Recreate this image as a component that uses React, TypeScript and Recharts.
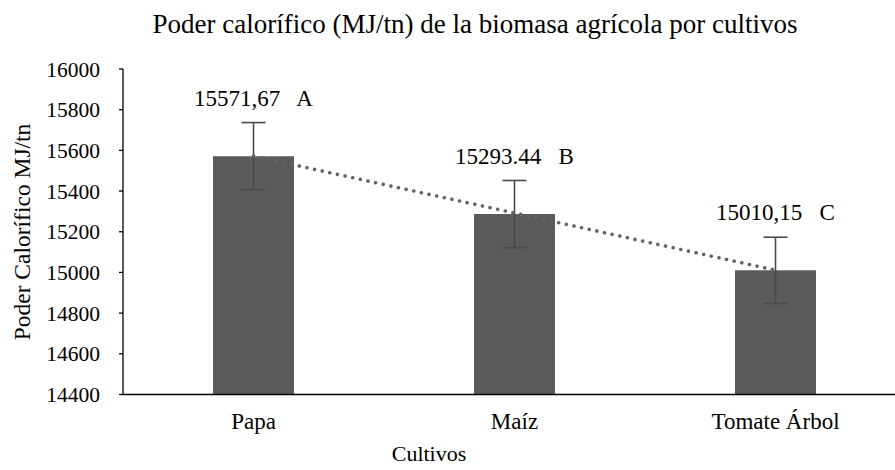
import React from 'react';
import {
  Bar,
  ComposedChart,
  ErrorBar,
  LabelList,
  Line,
  XAxis,
  YAxis,
} from 'recharts';

const cultivos = ['Papa', 'Maíz', 'Tomate Árbol'];
const poder = [15571.67, 15287, 15010.15];
const errores = [165, 165, 163];
const tendencia = [15572, 15292, 15011];
const etiquetas = ['15571,67   A', '15293.44   B', '15010,15   C'];
const yTicks = [14400, 14600, 14800, 15000, 15200, 15400, 15600, 15800, 16000];

const data = cultivos.map((name, i) => ({
  name,
  value: poder[i],
  err: errores[i],
  trend: tendencia[i],
}));

const FONT = "'Liberation Serif', 'Times New Roman', serif";

const renderLabel = (props: any) => {
  const { x, y, width, index } = props;
  return (
    <text
      x={Number(x) + Number(width) / 2}
      y={Number(y) - 50}
      textAnchor="middle"
      fontSize={23}
      fill="#000"
      style={{ whiteSpace: 'pre' }}
    >
      {etiquetas[index]}
    </text>
  );
};

export default function App() {
  return (
    <div
      style={{
        position: 'absolute',
        left: 0,
        top: 0,
        width: 895,
        height: 470,
        overflow: 'hidden',
        background: '#fff',
        fontFamily: FONT,
      }}
    >
      <style>{`svg text, svg tspan { font-family: ${FONT} !important; }`}</style>
      <ComposedChart
        width={920}
        height={470}
        data={data}
        margin={{ top: 69, right: 14, bottom: 0, left: 0 }}
      >
        <XAxis
          dataKey="name"
          height={75.5}
          tickLine={false}
          tickSize={0}
          tickMargin={18}
          axisLine={{ stroke: '#000', strokeWidth: 1.3 }}
          tick={{ fill: '#000', fontSize: 23 }}
        />
        <YAxis
          type="number"
          domain={[14400, 16000]}
          ticks={yTicks}
          interval={0}
          width={123}
          tickSize={4}
          tickMargin={19}
          axisLine={{ stroke: '#000', strokeWidth: 1.3 }}
          tickLine={{ stroke: '#000', strokeWidth: 1.3 }}
          tick={{ fill: '#000', fontSize: 21.5 }}
        />
        <Bar dataKey="value" fill="#5b5b5b" barSize={81} isAnimationActive={false}>
          <ErrorBar
            dataKey="err"
            width={12}
            stroke="#4a4a4a"
            strokeWidth={1.6}
            isAnimationActive={false}
          />
          <LabelList dataKey="value" content={renderLabel} />
        </Bar>
        <Line
          dataKey="trend"
          type="linear"
          stroke="#636363"
          strokeWidth={3.6}
          strokeDasharray="0.01 7.8"
          strokeLinecap="round"
          dot={false}
          activeDot={false}
          isAnimationActive={false}
        />
      </ComposedChart>
      <svg
        width={895}
        height={470}
        style={{ position: 'absolute', left: 0, top: 0, pointerEvents: 'none' }}
      >
        <text x={475} y={33} textAnchor="middle" fontSize={27} fill="#000">
          Poder calorífico (MJ/tn) de la biomasa agrícola por cultivos
        </text>
        <text
          transform="translate(30,232) rotate(-90)"
          textAnchor="middle"
          fontSize={23.5}
          fill="#000"
        >
          Poder Calorífico MJ/tn
        </text>
        <text x={429} y={461} textAnchor="middle" fontSize={22} fill="#000">
          Cultivos
        </text>
      </svg>
    </div>
  );
}
